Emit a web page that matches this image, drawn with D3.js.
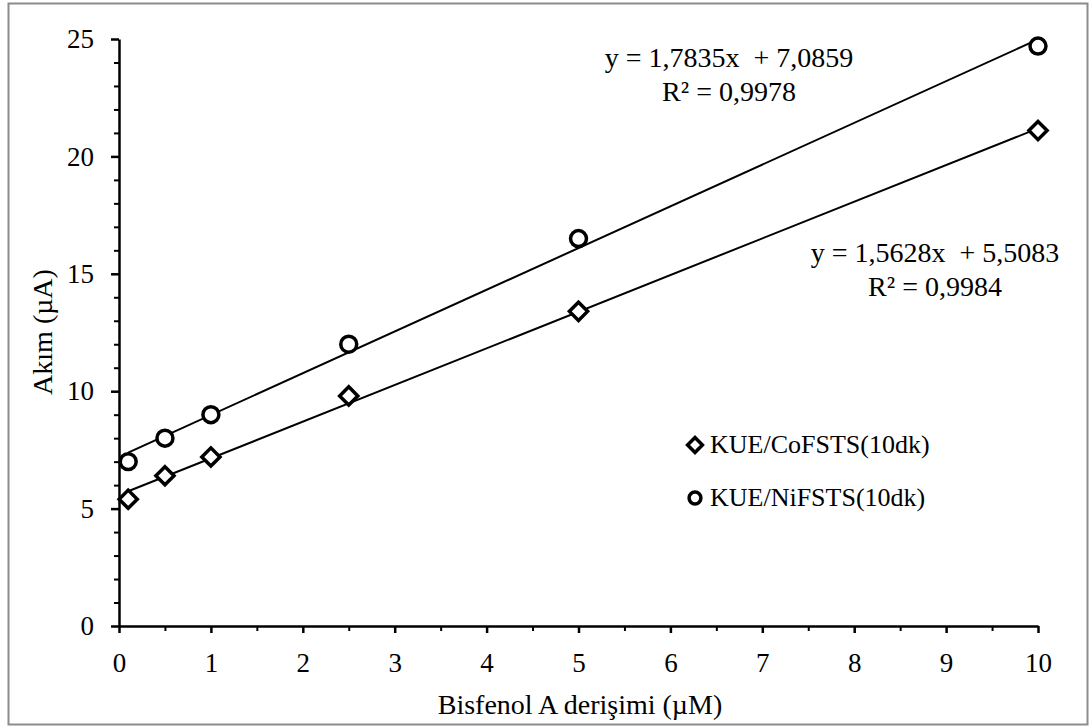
<!DOCTYPE html>
<html>
<head>
<meta charset="utf-8">
<script src="https://cdn.jsdelivr.net/npm/d3@7"></script>
<style>
  body { margin: 0; background: #fff; }
  svg text { font-family: "Liberation Serif", "Times New Roman", serif; fill: #000; white-space: pre; }
</style>
</head>
<body>
<div id="chart"></div>
<script>
// data
const concentrations = [0.1, 0.5, 1, 2.5, 5, 10];
const coValues = [5.4, 6.4, 7.2, 9.8, 13.4, 21.1];
const niValues = [7.0, 8.0, 9.0, 12.0, 16.5, 24.7];
const seriesNames = ["KUE/CoFSTS(10dk)", "KUE/NiFSTS(10dk)"];
const equations = [
    ["y = 1,5628x  + 5,5083", "R\u00b2 = 0,9984"],
    ["y = 1,7835x  + 7,0859", "R\u00b2 = 0,9978"]
];
const xTicks = [0, 1, 2, 3, 4, 5, 6, 7, 8, 9, 10];
const yTicks = [0, 5, 10, 15, 20, 25];

const width = 1092, height = 728;
const plotLeft = 119, plotRight = 1038, plotTop = 39, plotBottom = 626;

const svg = d3.select("#chart").append("svg")
    .attr("width", width)
    .attr("height", height);

// outer frame
svg.append("rect")
    .attr("x", 8.5).attr("y", 3.5)
    .attr("width", 1079).attr("height", 721)
    .attr("fill", "none")
    .attr("stroke", "#8c8c8c")
    .attr("stroke-width", 2);

const x = d3.scaleLinear().domain([0, 10]).range([plotLeft, plotRight]);
const y = d3.scaleLinear().domain([0, 25]).range([plotBottom, plotTop]);

// minor ticks first
svg.append("g")
    .attr("transform", `translate(0,${plotBottom})`)
    .call(d3.axisBottom(x).tickValues(d3.range(0.5, 10, 1)).tickSize(5).tickFormat(""))
    .call(g => g.select(".domain").remove())
    .call(g => g.selectAll("line").attr("stroke-width", 2));
svg.append("g")
    .attr("transform", `translate(${plotLeft},0)`)
    .call(d3.axisLeft(y).tickValues(d3.range(0, 26, 1).filter(v => v % 5 !== 0)).tickSize(5).tickFormat(""))
    .call(g => g.select(".domain").remove())
    .call(g => g.selectAll("line").attr("stroke-width", 2));

// major axes
const xAxis = svg.append("g")
    .attr("transform", `translate(0,${plotBottom})`)
    .call(d3.axisBottom(x).tickValues(xTicks).tickSize(7).tickSizeOuter(0).tickPadding(20));
xAxis.select(".domain").attr("stroke-width", 2.5);
xAxis.selectAll("line").attr("stroke-width", 2.5);
xAxis.selectAll("text").attr("font-size", 27).style("font-family", "Liberation Serif");

const yAxis = svg.append("g")
    .attr("transform", `translate(${plotLeft},0)`)
    .call(d3.axisLeft(y).tickValues(yTicks).tickSize(8).tickSizeOuter(0).tickPadding(17));
yAxis.select(".domain").attr("stroke-width", 2.5);
yAxis.selectAll("line").attr("stroke-width", 2.5);
yAxis.selectAll("text").attr("font-size", 27).style("font-family", "Liberation Serif");

// axis titles
svg.append("text")
    .attr("x", 580)
    .attr("y", 714)
    .attr("text-anchor", "middle")
    .attr("font-size", 28)
    .text("Bisfenol A deri\u015fimi (\u00b5M)");

svg.append("text")
    .attr("transform", `translate(52,332) rotate(-90)`)
    .attr("text-anchor", "middle")
    .attr("font-size", 28)
    .text("Ak\u0131m (\u00b5A)");

// least squares trend line over the plotted points
function fit(xs, ys) {
    const mx = d3.mean(xs), my = d3.mean(ys);
    const sxy = d3.sum(xs, (v, i) => (v - mx) * (ys[i] - my));
    const sxx = d3.sum(xs, v => (v - mx) * (v - mx));
    const b = sxy / sxx;
    return { slope: b, intercept: my - b * mx };
}

const series = [
    { name: seriesNames[0], values: coValues, symbol: d3.symbolDiamond2, size: 210, legendSize: 140 },
    { name: seriesNames[1], values: niValues, symbol: d3.symbolCircle, size: 200, legendSize: 110 }
];

const line = d3.line().x(d => x(d[0])).y(d => y(d[1]));

series.forEach(s => {
    const f = fit(concentrations, s.values);
    const ends = d3.extent(concentrations);
    svg.append("path")
        .attr("d", line(ends.map(v => [v, f.slope * v + f.intercept])))
        .attr("fill", "none")
        .attr("stroke", "#000")
        .attr("stroke-width", 2);
});

series.forEach(s => {
    svg.append("g").selectAll("path")
        .data(concentrations.map((c, i) => [c, s.values[i]]))
        .join("path")
        .attr("transform", d => `translate(${x(d[0])},${y(d[1])})`)
        .attr("d", d3.symbol().type(s.symbol).size(s.size))
        .attr("fill", "#fff")
        .attr("stroke", "#000")
        .attr("stroke-width", 3.5);
});

// equations
const eqPos = [[935, 262], [729, 67]];
equations.forEach((eq, i) => {
    eq.forEach((t, j) => {
        svg.append("text")
            .attr("x", eqPos[i][0])
            .attr("y", eqPos[i][1] + j * 34)
            .attr("text-anchor", "middle")
            .attr("font-size", 28)
            .text(t);
    });
});

// legend
const legend = svg.append("g").attr("transform", "translate(695,445)");
series.forEach((s, i) => {
    const row = legend.append("g").attr("transform", `translate(0,${i * 53})`);
    row.append("path")
        .attr("d", d3.symbol().type(s.symbol).size(s.legendSize))
        .attr("fill", "#fff")
        .attr("stroke", "#000")
        .attr("stroke-width", 3.5);
    row.append("text")
        .attr("x", 15)
        .attr("y", 8)
        .attr("font-size", 26)
        .text(s.name);
});
</script>
</body>
</html>
